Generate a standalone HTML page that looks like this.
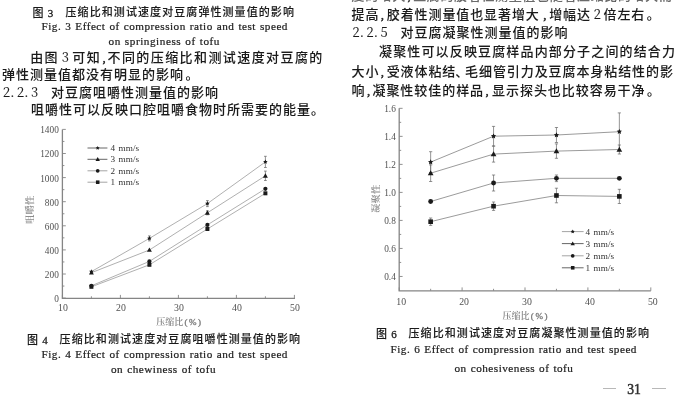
<!DOCTYPE html>
<html><head><meta charset="utf-8">
<style>
html,body{margin:0;padding:0;background:#fff;}
body{width:681px;height:402px;position:relative;overflow:hidden;filter:blur(0.3px);}
.t{position:absolute;white-space:nowrap;color:#1a1a1a;}
.b{font-family:"Liberation Serif","Noto Sans CJK SC",sans-serif;font-size:13px;line-height:14px;letter-spacing:1px;font-weight:500;-webkit-text-stroke:0.05px #1a1a1a;}
.j{text-align:justify;text-align-last:justify;}
.dg{font-family:"Noto Serif CJK SC",serif;font-weight:400;-webkit-text-stroke:0.1px #1a1a1a;letter-spacing:0;display:inline-block;width:14px;text-align:left;text-align-last:left;}
.n{font-family:"Noto Serif CJK SC",serif;font-weight:400;-webkit-text-stroke:0.1px #1a1a1a;}
.d7{width:6px;}
.nb{display:inline-block;text-align:center;text-align-last:center;letter-spacing:0;}
.c2{display:inline-block;width:8.5px;overflow:hidden;letter-spacing:0;text-indent:-1px;vertical-align:top;}
.c{display:inline-block;width:7px;text-indent:1.5px;letter-spacing:0;-webkit-text-stroke:0.4px #1a1a1a;text-align:left;text-align-last:left;}
.cap{font-family:"Liberation Sans","Noto Sans CJK SC",sans-serif;font-size:11px;line-height:12px;font-weight:500;-webkit-text-stroke:0.1px #1a1a1a;letter-spacing:1.08px;}
.cap i{margin-left:-1px;font-style:normal;font-family:"Liberation Serif",serif;font-weight:normal;-webkit-text-stroke:0.3px #1a1a1a;}
.en{font-family:"Liberation Serif",serif;font-size:11.2px;line-height:11px;font-weight:normal;-webkit-text-stroke:0.22px #222;color:#222;word-spacing:0.7px;letter-spacing:0.5px;font-variant-ligatures:none;}
.gl{font-family:"Noto Serif CJK SC",serif;color:#7c7c7c;font-size:8px;line-height:9.5px;font-weight:600;}
.pp{font-family:"Liberation Serif",serif;letter-spacing:1.6px;margin-left:1.2px;font-weight:normal;-webkit-text-stroke:0.35px #7c7c7c;}
svg{position:absolute;left:0;top:0;}
</style></head><body>
<svg width="681" height="402" viewBox="0 0 681 402">
<g>
<path d="M62.4 129.4V298.3H295" stroke="#858585" stroke-width="1.3" fill="none"/>
<path d="M62.4 298.1h3.4M62.4 286.05h2.0M62.4 274h3.4M62.4 261.95h2.0M62.4 249.9h3.4M62.4 237.85h2.0M62.4 225.8h3.4M62.4 213.75h2.0M62.4 201.7h3.4M62.4 189.65h2.0M62.4 177.6h3.4M62.4 165.55h2.0M62.4 153.5h3.4M62.4 141.45h2.0M62.4 129.4h3.4M62.4 298.3v-3.4M91.4 298.3v-2.0M120.4 298.3v-3.4M149.4 298.3v-2.0M178.4 298.3v-3.4M207.4 298.3v-2.0M236.4 298.3v-3.4M265.4 298.3v-2.0M294.4 298.3v-3.4" stroke="#858585" stroke-width="0.9" fill="none"/>
<g font-family="Liberation Serif,serif" font-size="9.3" fill="#505050"><text x="58.8" y="302" text-anchor="end">0</text><text x="58.8" y="277.9" text-anchor="end">200</text><text x="58.8" y="253.8" text-anchor="end">400</text><text x="58.8" y="229.7" text-anchor="end">600</text><text x="58.8" y="205.6" text-anchor="end">800</text><text x="58.8" y="181.5" text-anchor="end">1000</text><text x="58.8" y="157.4" text-anchor="end">1200</text><text x="58.8" y="133.3" text-anchor="end">1400</text><text x="63" y="310.8" font-size="9.8" text-anchor="middle">10</text><text x="121" y="310.8" font-size="9.8" text-anchor="middle">20</text><text x="179" y="310.8" font-size="9.8" text-anchor="middle">30</text><text x="237" y="310.8" font-size="9.8" text-anchor="middle">40</text><text x="295" y="310.8" font-size="9.8" text-anchor="middle">50</text></g>
<path d="M91.4 271.6 L149.4 238.4 L207.4 203.6 L265.4 161.9" stroke="#8e8e8e" stroke-width="0.7" fill="none"/>
<path d="M91.4 272.7 L149.4 250 L207.4 212.8 L265.4 175.8" stroke="#8e8e8e" stroke-width="0.7" fill="none"/>
<path d="M91.4 285.8 L149.4 261.4 L207.4 224.9 L265.4 188.8" stroke="#8e8e8e" stroke-width="0.7" fill="none"/>
<path d="M91.4 286.8 L149.4 264.8 L207.4 229 L265.4 193.3" stroke="#8e8e8e" stroke-width="0.7" fill="none"/>
<polygon points="91.4,269.23 92.1,270.64 93.66,270.87 92.53,271.97 92.8,273.52 91.4,272.79 90,273.52 90.27,271.97 89.14,270.87 90.7,270.64" fill="#1a1a1a"/>
<path d="M149.4 235.9V240.9M148 235.9H150.8M148 240.9H150.8" stroke="#666" stroke-width="0.7" fill="none"/>
<polygon points="149.4,236.03 150.1,237.44 151.66,237.67 150.53,238.77 150.8,240.32 149.4,239.59 148,240.32 148.27,238.77 147.14,237.67 148.7,237.44" fill="#1a1a1a"/>
<path d="M207.4 200.6V206.6M206 200.6H208.8M206 206.6H208.8" stroke="#666" stroke-width="0.7" fill="none"/>
<polygon points="207.4,201.22 208.1,202.64 209.66,202.87 208.53,203.97 208.8,205.52 207.4,204.79 206,205.52 206.27,203.97 205.14,202.87 206.7,202.64" fill="#1a1a1a"/>
<path d="M265.4 156.3V167.5M264 156.3H266.8M264 167.5H266.8" stroke="#666" stroke-width="0.7" fill="none"/>
<polygon points="265.4,159.53 266.1,160.94 267.66,161.17 266.53,162.27 266.8,163.82 265.4,163.09 264,163.82 264.27,162.27 263.14,161.17 264.7,160.94" fill="#1a1a1a"/>
<polygon points="91.4,270.23 93.87,274.55 88.93,274.55" fill="#1a1a1a"/>
<polygon points="149.4,247.53 151.87,251.85 146.93,251.85" fill="#1a1a1a"/>
<path d="M207.4 210.8V214.8M206 210.8H208.8M206 214.8H208.8" stroke="#666" stroke-width="0.7" fill="none"/>
<polygon points="207.4,210.33 209.87,214.65 204.93,214.65" fill="#1a1a1a"/>
<path d="M265.4 171.1V180.5M264 171.1H266.8M264 180.5H266.8" stroke="#666" stroke-width="0.7" fill="none"/>
<polygon points="265.4,173.33 267.87,177.65 262.93,177.65" fill="#1a1a1a"/>
<circle cx="91.4" cy="285.8" r="2.09" fill="#1a1a1a"/>
<circle cx="149.4" cy="261.4" r="2.09" fill="#1a1a1a"/>
<circle cx="207.4" cy="224.9" r="2.09" fill="#1a1a1a"/>
<circle cx="265.4" cy="188.8" r="2.09" fill="#1a1a1a"/>
<rect x="89.41" y="284.81" width="3.99" height="3.99" fill="#1a1a1a"/>
<rect x="147.41" y="262.81" width="3.99" height="3.99" fill="#1a1a1a"/>
<rect x="205.41" y="227" width="3.99" height="3.99" fill="#1a1a1a"/>
<rect x="263.4" y="191.31" width="3.99" height="3.99" fill="#1a1a1a"/>
<path d="M87.5 148H107.4" stroke="#555" stroke-width="0.9"/>
<polygon points="97.7,145.88 98.32,147.14 99.72,147.34 98.71,148.33 98.95,149.72 97.7,149.06 96.45,149.72 96.69,148.33 95.68,147.34 97.08,147.14" fill="#1a1a1a"/>
<text x="110.6" y="150.9" font-family="Liberation Serif,serif" font-size="9.2" word-spacing="1.1" fill="#333">4 mm/s</text>
<path d="M87.5 159.3H107.4" stroke="#555" stroke-width="0.9"/>
<polygon points="97.7,157.09 99.91,160.96 95.49,160.96" fill="#1a1a1a"/>
<text x="110.6" y="162.2" font-family="Liberation Serif,serif" font-size="9.2" word-spacing="1.1" fill="#333">3 mm/s</text>
<path d="M87.5 170.8H107.4" stroke="#9a9a9a" stroke-width="0.9"/>
<circle cx="97.7" cy="170.8" r="1.87" fill="#1a1a1a"/>
<text x="110.6" y="173.7" font-family="Liberation Serif,serif" font-size="9.2" word-spacing="1.1" fill="#333">2 mm/s</text>
<path d="M87.5 182.2H107.4" stroke="#9a9a9a" stroke-width="0.9"/>
<rect x="95.92" y="180.41" width="3.57" height="3.57" fill="#1a1a1a"/>
<text x="110.6" y="185.1" font-family="Liberation Serif,serif" font-size="9.2" word-spacing="1.1" fill="#333">1 mm/s</text>
</g>
<g>
<path d="M399.2 108.34V290.8H650.8" stroke="#858585" stroke-width="1.3" fill="none"/>
<path d="M399.2 276.46h3.4M399.2 262.45h2.0M399.2 248.44h3.4M399.2 234.43h2.0M399.2 220.42h3.4M399.2 206.41h2.0M399.2 192.4h3.4M399.2 178.39h2.0M399.2 164.38h3.4M399.2 150.37h2.0M399.2 136.36h3.4M399.2 122.35h2.0M399.2 108.34h3.4M399.2 290.8v-3.4M430.65 290.8v-2.0M462.1 290.8v-3.4M493.55 290.8v-2.0M525 290.8v-3.4M556.45 290.8v-2.0M587.9 290.8v-3.4M619.35 290.8v-2.0M650.8 290.8v-3.4" stroke="#858585" stroke-width="0.9" fill="none"/>
<g font-family="Liberation Serif,serif" font-size="9.3" fill="#505050"><text x="395.8" y="280.36" text-anchor="end">0.4</text><text x="395.8" y="252.34" text-anchor="end">0.6</text><text x="395.8" y="224.32" text-anchor="end">0.8</text><text x="395.8" y="196.3" text-anchor="end">1.0</text><text x="395.8" y="168.28" text-anchor="end">1.2</text><text x="395.8" y="140.26" text-anchor="end">1.4</text><text x="395.8" y="112.24" text-anchor="end">1.6</text><text x="401.2" y="304.5" font-size="9.8" text-anchor="middle">10</text><text x="464.1" y="304.5" font-size="9.8" text-anchor="middle">20</text><text x="527" y="304.5" font-size="9.8" text-anchor="middle">30</text><text x="589.9" y="304.5" font-size="9.8" text-anchor="middle">40</text><text x="652.8" y="304.5" font-size="9.8" text-anchor="middle">50</text></g>
<path d="M430.65 162.1 L493.55 136.2 L556.45 135 L619.35 131.7" stroke="#7a7a7a" stroke-width="0.75" fill="none"/>
<path d="M430.65 173.2 L493.55 154.1 L556.45 151.1 L619.35 149.5" stroke="#7a7a7a" stroke-width="0.75" fill="none"/>
<path d="M430.65 201.5 L493.55 183 L556.45 178.3 L619.35 178.3" stroke="#7a7a7a" stroke-width="0.75" fill="none"/>
<path d="M430.65 221.7 L493.55 206.2 L556.45 195.5 L619.35 196.4" stroke="#7a7a7a" stroke-width="0.75" fill="none"/>
<path d="M430.65 151.7V172.5M429.05 151.7H432.25M429.05 172.5H432.25" stroke="#666" stroke-width="0.7" fill="none"/>
<polygon points="430.65,159.35 431.46,160.99 433.27,161.25 431.96,162.52 432.27,164.32 430.65,163.47 429.03,164.32 429.34,162.52 428.03,161.25 429.84,160.99" fill="#1a1a1a"/>
<path d="M493.55 126.4V146M491.95 126.4H495.15M491.95 146H495.15" stroke="#666" stroke-width="0.7" fill="none"/>
<polygon points="493.55,133.45 494.36,135.09 496.17,135.35 494.86,136.62 495.17,138.42 493.55,137.57 491.93,138.42 492.24,136.62 490.93,135.35 492.74,135.09" fill="#1a1a1a"/>
<path d="M556.45 127.5V142.5M554.85 127.5H558.05M554.85 142.5H558.05" stroke="#666" stroke-width="0.7" fill="none"/>
<polygon points="556.45,132.25 557.26,133.89 559.07,134.15 557.76,135.42 558.07,137.22 556.45,136.38 554.83,137.22 555.14,135.42 553.83,134.15 555.64,133.89" fill="#1a1a1a"/>
<path d="M619.35 112.9V150.5M617.75 112.9H620.95M617.75 150.5H620.95" stroke="#666" stroke-width="0.7" fill="none"/>
<polygon points="619.35,128.95 620.16,130.59 621.97,130.85 620.66,132.12 620.97,133.92 619.35,133.07 617.73,133.92 618.04,132.12 616.73,130.85 618.54,130.59" fill="#1a1a1a"/>
<path d="M430.65 164.9V181.5M429.05 164.9H432.25M429.05 181.5H432.25" stroke="#666" stroke-width="0.7" fill="none"/>
<polygon points="430.65,170.34 433.51,175.34 427.79,175.34" fill="#1a1a1a"/>
<path d="M493.55 146.1V162.1M491.95 146.1H495.15M491.95 162.1H495.15" stroke="#666" stroke-width="0.7" fill="none"/>
<polygon points="493.55,151.24 496.41,156.25 490.69,156.25" fill="#1a1a1a"/>
<path d="M556.45 143.9V158.3M554.85 143.9H558.05M554.85 158.3H558.05" stroke="#666" stroke-width="0.7" fill="none"/>
<polygon points="556.45,148.24 559.31,153.25 553.59,153.25" fill="#1a1a1a"/>
<path d="M619.35 145V154M617.75 145H620.95M617.75 154H620.95" stroke="#666" stroke-width="0.7" fill="none"/>
<polygon points="619.35,146.64 622.21,151.65 616.49,151.65" fill="#1a1a1a"/>
<circle cx="430.65" cy="201.5" r="2.42" fill="#1a1a1a"/>
<path d="M493.55 175V191M491.95 175H495.15M491.95 191H495.15" stroke="#666" stroke-width="0.7" fill="none"/>
<circle cx="493.55" cy="183" r="2.42" fill="#1a1a1a"/>
<path d="M556.45 175V181.6M554.85 175H558.05M554.85 181.6H558.05" stroke="#666" stroke-width="0.7" fill="none"/>
<circle cx="556.45" cy="178.3" r="2.42" fill="#1a1a1a"/>
<circle cx="619.35" cy="178.3" r="2.42" fill="#1a1a1a"/>
<path d="M430.65 218V225.4M429.05 218H432.25M429.05 225.4H432.25" stroke="#666" stroke-width="0.7" fill="none"/>
<rect x="428.34" y="219.39" width="4.62" height="4.62" fill="#1a1a1a"/>
<path d="M493.55 202V210.4M491.95 202H495.15M491.95 210.4H495.15" stroke="#666" stroke-width="0.7" fill="none"/>
<rect x="491.24" y="203.89" width="4.62" height="4.62" fill="#1a1a1a"/>
<path d="M556.45 188.2V202.8M554.85 188.2H558.05M554.85 202.8H558.05" stroke="#666" stroke-width="0.7" fill="none"/>
<rect x="554.14" y="193.19" width="4.62" height="4.62" fill="#1a1a1a"/>
<path d="M619.35 189.3V203.5M617.75 189.3H620.95M617.75 203.5H620.95" stroke="#666" stroke-width="0.7" fill="none"/>
<rect x="617.04" y="194.09" width="4.62" height="4.62" fill="#1a1a1a"/>
<path d="M561.9 231.6H583.6" stroke="#9a9a9a" stroke-width="0.9"/>
<polygon points="572.7,229.47 573.32,230.74 574.72,230.94 573.71,231.93 573.95,233.32 572.7,232.66 571.45,233.32 571.69,231.93 570.68,230.94 572.08,230.74" fill="#1a1a1a"/>
<text x="585.6" y="234.5" font-family="Liberation Serif,serif" font-size="9.2" word-spacing="1.1" fill="#333">4 mm/s</text>
<path d="M561.9 243.6H583.6" stroke="#555" stroke-width="0.9"/>
<polygon points="572.7,241.39 574.91,245.26 570.49,245.26" fill="#1a1a1a"/>
<text x="585.6" y="246.5" font-family="Liberation Serif,serif" font-size="9.2" word-spacing="1.1" fill="#333">3 mm/s</text>
<path d="M561.9 255.8H583.6" stroke="#9a9a9a" stroke-width="0.9"/>
<circle cx="572.7" cy="255.8" r="1.87" fill="#1a1a1a"/>
<text x="585.6" y="258.7" font-family="Liberation Serif,serif" font-size="9.2" word-spacing="1.1" fill="#333">2 mm/s</text>
<path d="M561.9 267.8H583.6" stroke="#555" stroke-width="0.9"/>
<rect x="570.92" y="266.01" width="3.57" height="3.57" fill="#1a1a1a"/>
<text x="585.6" y="270.7" font-family="Liberation Serif,serif" font-size="9.2" word-spacing="1.1" fill="#333">1 mm/s</text>
</g>
</svg>
<div class="t cap" style="left:32.5px;top:6.8px;">图 <i>3</i></div><div class="t cap" style="left:65.5px;top:6.2px;">压缩比和测试速度对豆腐弹性测量值的影响</div>
<div class="t en" style="left:41.5px;top:21px;">Fig. 3 Effect of compression ratio and test speed</div>
<div class="t en" style="left:108.5px;top:35.8px;letter-spacing:0.55px;">on springiness of tofu</div>
<div class="t b j" style="left:30.2px;top:50.3px;width:293.2px;">由图<span class="n nb" style="width:12.8px;">3</span>可知<span class="c" style="width:6px;">,</span>不同的压缩比和测试速度对豆腐的</div>
<div class="t b" style="left:2.0px;top:67.6px;">弹性测量值都没有明显的影响<span style="margin-left:1.5px">。</span></div>
<div class="t b" style="left:3.0px;top:84.9px;"><span class="dg">2.</span><span class="dg">2.</span><span class="dg d7">3</span>　对豆腐咀嚼性测量值的影响</div>
<div class="t b" style="left:31.0px;top:102.8px;">咀嚼性可以反映口腔咀嚼食物时所需要的能量。</div>
<div class="t b j" style="left:351.5px;top:-11.3px;width:321px;color:#6a6a6a;letter-spacing:0.6px;">度的增大<span class="c">,</span>豆腐的胶着性测量值也随着压缩比的增大而</div>
<div class="t b" style="left:351.5px;top:6.6px;letter-spacing:0.9px;">提高<span class="c" style="width:7.5px;">,</span>胶着性测量值也显著增大<span class="c" style="width:9.5px;text-indent:3.5px;">,</span>增幅达<span class="n nb" style="width:12.6px;">2</span>倍左右<span style="margin-left:1.5px">。</span></div>
<div class="t b" style="left:352.5px;top:25.0px;"><span class="dg">2.</span><span class="dg">2.</span><span class="dg d7">5</span>　对豆腐凝聚性测量值的影响</div>
<div class="t b j" style="left:379.0px;top:45.2px;width:297px;">凝聚性可以反映豆腐样品内部分子之间的结合力</div>
<div class="t b j" style="left:351.5px;top:64.5px;width:322px;letter-spacing:0.6px;">大小<span class="c">,</span>受液体粘结<span class="c2">、</span>毛细管引力及豆腐本身粘结性的影</div>
<div class="t b" style="left:351.5px;top:83.5px;letter-spacing:0.95px;">响<span class="c">,</span>凝聚性较佳的样品<span class="c" style="width:8px;">,</span>显示探头也比较容易干净<span style="margin-left:1.5px">。</span></div>
<div class="t gl" style="left:24.5px;top:195px;width:9.5px;height:28.5px;font-size:9.3px;color:#8c8c8c;"><div style="position:absolute;left:-9.5px;top:9.5px;width:28.5px;transform:rotate(-90deg);letter-spacing:0.2px;">咀嚼性</div></div>
<div class="t gl" style="left:156.2px;top:316.5px;font-size:9px;line-height:9px;">压缩比<span class="pp">(%)</span></div>
<div class="t gl" style="left:370.8px;top:184px;width:9.5px;height:28.5px;font-size:9.3px;color:#8c8c8c;"><div style="position:absolute;left:-9.5px;top:9.5px;width:28.5px;transform:rotate(-90deg);letter-spacing:0.2px;">凝聚性</div></div>
<div class="t gl" style="left:502.6px;top:310.8px;font-size:9px;line-height:9px;">压缩比<span class="pp">(%)</span></div>

<div class="t cap" style="left:27px;top:333.8px;">图 <i>4</i></div><div class="t cap" style="left:59.6px;top:332.9px;">压缩比和测试速度对豆腐咀嚼性测量值的影响</div>
<div class="t en" style="left:41.5px;top:348.5px;">Fig. 4 Effect of compression ratio and test speed</div>
<div class="t en" style="left:111px;top:363.5px;">on chewiness of tofu</div>

<div class="t cap" style="left:376px;top:328.3px;">图 <i>6</i></div><div class="t cap" style="left:408.5px;top:327.4px;">压缩比和测试速度对豆腐凝聚性测量值的影响</div>
<div class="t en" style="left:390.5px;top:344px;">Fig. 6 Effect of compression ratio and test speed</div>
<div class="t en" style="left:454.5px;top:363px;">on cohesiveness of tofu</div>

<div style="position:absolute;left:603px;top:388.4px;width:13.4px;height:1px;background:#b8b8b8;"></div>
<div class="t" style="left:627.3px;top:382.8px;font-family:'Liberation Serif',serif;font-size:13.6px;line-height:14px;font-weight:normal;-webkit-text-stroke:0.5px #333;color:#333;">31</div>
<div style="position:absolute;left:652.2px;top:388.4px;width:13.4px;height:1px;background:#b8b8b8;"></div>
</body></html>
